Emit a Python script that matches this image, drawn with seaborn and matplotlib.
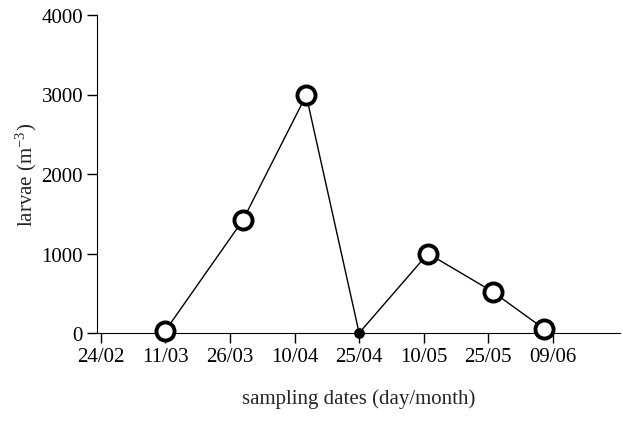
import matplotlib
matplotlib.use("Agg")
import matplotlib.pyplot as plt
import seaborn as sns
import pandas as pd

# day of year for sampling dates
days = [70, 88, 102.7, 115, 131, 146, 158]
larvae = [30, 1420, 2990, 0, 1000, 520, 50]
open_marker = [True, True, True, False, True, True, True]
tick_days = [55, 70, 85, 100, 115, 130, 145, 160]
tick_labels = ["24/02", "11/03", "26/03", "10/04", "25/04", "10/05", "25/05", "09/06"]

df = pd.DataFrame({"day": days, "larvae": larvae, "open": open_marker})

sns.set_style("ticks")
plt.rcParams["font.family"] = ["Liberation Serif", "DejaVu Serif"]
plt.rcParams["mathtext.fontset"] = "stix"

fig = plt.figure(figsize=(6.23, 4.39), dpi=100)
ax = fig.add_axes([97/623, 1-334/439, 523/623, 318/439])

sns.lineplot(data=df, x="day", y="larvae", color="black", lw=1, ax=ax)
op = df[df["open"]]
ax.scatter(op["day"], op["larvae"], s=170, facecolor="white", edgecolor="black", linewidth=2.8, zorder=3, clip_on=False)
cl = df[~df["open"]]
ax.scatter(cl["day"], cl["larvae"], s=45, color="black", zorder=3, clip_on=False)

ax.set_xlim(54.1, 175.6)
ax.set_ylim(0, 4000)
ax.set_xticks(tick_days)
ax.set_xticklabels(tick_labels)
ax.set_yticks([0, 1000, 2000, 3000, 4000])
ax.tick_params(labelsize=15, colors="black", width=1, length=7, direction="out", pad=3)
ax.set_ylabel("larvae (m$^{\\mathregular{-3}}$)", fontsize=15, labelpad=2)
ax.set_xlabel("sampling dates (day/month)", fontsize=15, labelpad=16)
sns.despine(ax=ax)
for s in ax.spines.values():
    s.set_color("black")

fig.savefig("out.png", dpi=100)
